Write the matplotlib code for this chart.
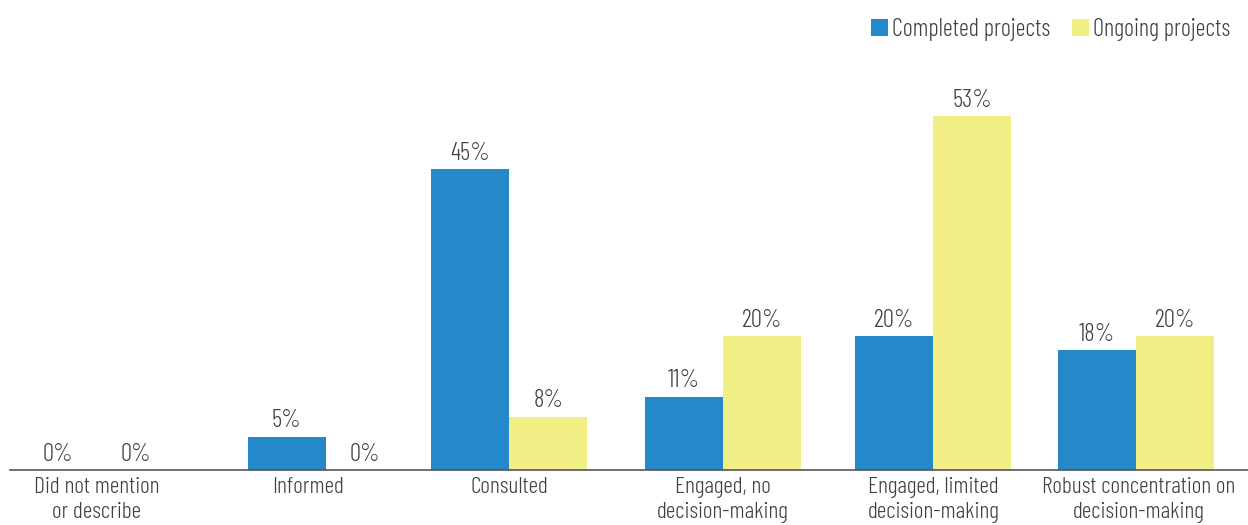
import matplotlib
matplotlib.use("Agg")
import matplotlib.pyplot as plt
from matplotlib.patches import Patch

categories = [
    "Did not mention\nor describe",
    "Informed",
    "Consulted",
    "Engaged, no\ndecision-making",
    "Engaged, limited\ndecision-making",
    "Robust concentration on\ndecision-making",
]
completed = [0, 5, 45, 11, 20, 18]
ongoing = [0, 0, 8, 20, 53, 20]
series_names = ["Completed projects", "Ongoing projects"]

# Layout: group centres and label positions along the x axis (axis units)
group_x = [0.42, 1.53, 2.42, 3.456, 4.474, 5.458]
label_x = [0.42, 1.445, 2.42, 3.456, 4.474, 5.468]
bar_w = 0.378

BLUE = "#2488CB"
YELLOW = "#F2EE86"
TEXT = "#3F3F3F"

plt.rcParams["font.family"] = ["Barlow Condensed", "DejaVu Sans"]
plt.rcParams["font.weight"] = 300

fig = plt.figure(figsize=(12.48, 5.25), dpi=100)
ax = fig.add_axes([10 / 1248, 55 / 525, 1 - 10 / 1248, 390 / 525])

b1 = ax.bar([x - bar_w / 2 for x in group_x], completed, width=bar_w, color=BLUE)
b2 = ax.bar([x + bar_w / 2 for x in group_x], ongoing, width=bar_w, color=YELLOW)

for bars in (b1, b2):
    ax.bar_label(bars, labels=[f"{v:g}%" for v in bars.datavalues],
                 padding=3, fontsize=18, color=TEXT)

ax.set_xlim(0, 6)
ax.set_ylim(0, 58.4)
ax.set_xticks(label_x)
ax.set_xticklabels(categories, fontsize=17, color=TEXT, linespacing=1.28)
ax.tick_params(axis="x", length=0, pad=5)
ax.set_yticks([])
for s in ("left", "right", "top"):
    ax.spines[s].set_visible(False)
ax.spines["bottom"].set_color("#555555")
ax.spines["bottom"].set_linewidth(1.2)

handles = [Patch(facecolor=BLUE), Patch(facecolor=YELLOW)]
fig.legend(handles, series_names, loc="upper right", bbox_to_anchor=(1.0, 1.0),
           ncol=2, frameon=False, fontsize=17.5, labelcolor=TEXT,
           handlelength=0.7, handleheight=0.7, handletextpad=0.15,
           columnspacing=0.9, borderaxespad=0.35)

fig.savefig("out.png", dpi=100, facecolor="white")
